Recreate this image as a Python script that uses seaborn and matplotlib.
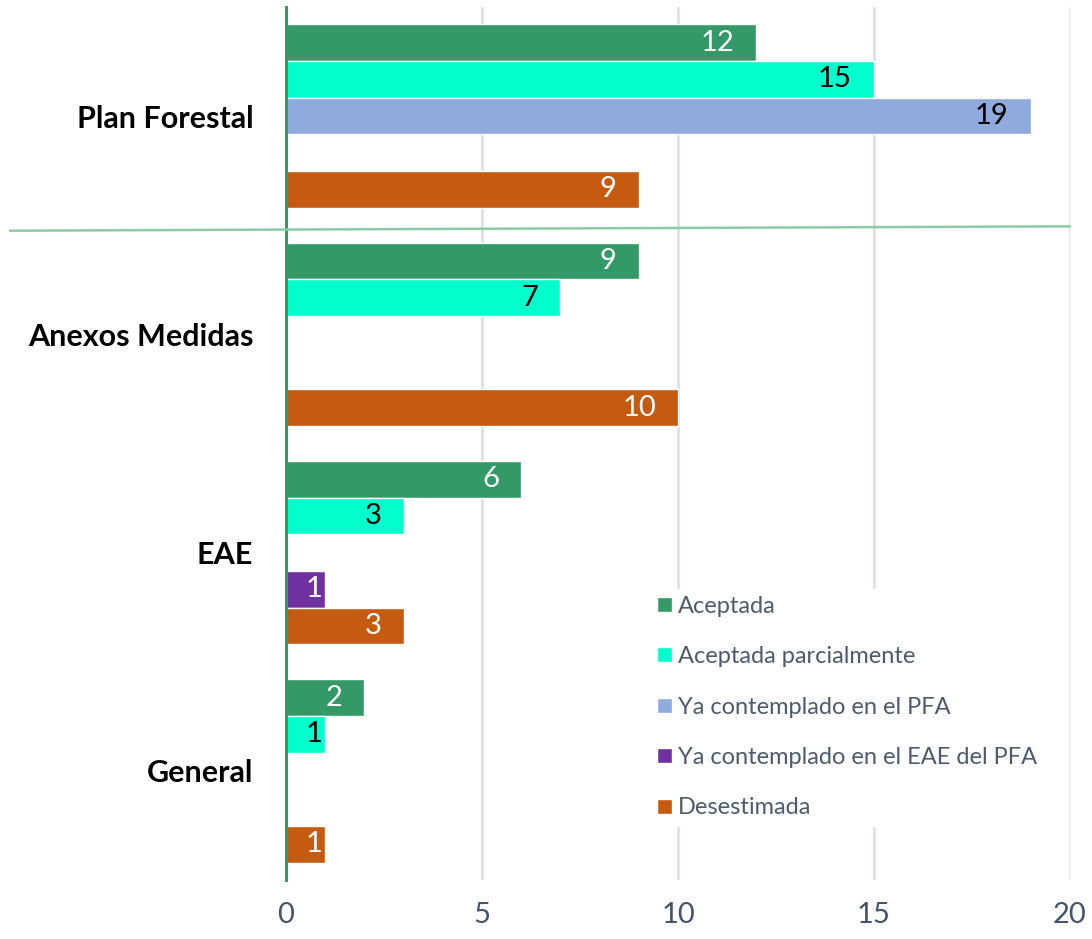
import matplotlib
matplotlib.use("Agg")
import matplotlib.pyplot as plt
from matplotlib.lines import Line2D
import numpy as np
import pandas as pd
import seaborn as sns

# Categories (top to bottom) and series
categories = ["Plan Forestal", "Anexos Medidas", "EAE", "General"]
series = [
    "Aceptada",
    "Aceptada parcialmente",
    "Ya contemplado en el PFA",
    "Ya contemplado en el EAE del PFA",
    "Desestimada",
]
aceptada = [12, 9, 6, 2]
aceptada_parcial = [15, 7, 3, 1]
ya_pfa = [19, None, None, None]
ya_eae_pfa = [None, None, 1, None]
desestimada = [9, 10, 3, 1]
x_ticks = [0, 5, 10, 15, 20]

colors = {
    "Aceptada": "#339966",
    "Aceptada parcialmente": "#00FFCC",
    "Ya contemplado en el PFA": "#8FAADC",
    "Ya contemplado en el EAE del PFA": "#7030A0",
    "Desestimada": "#C55A11",
}
label_colors = {
    "Aceptada": "white",
    "Aceptada parcialmente": "black",
    "Ya contemplado en el PFA": "black",
    "Ya contemplado en el EAE del PFA": "white",
    "Desestimada": "white",
}

rows = []
for name, vals in zip(series, [aceptada, aceptada_parcial, ya_pfa, ya_eae_pfa, desestimada]):
    for cat, v in zip(categories, vals):
        if v is not None:
            rows.append({"categoria": cat, "serie": name, "valor": v})
df = pd.DataFrame(rows)

sns.set_theme(style="white")
plt.rcParams["font.family"] = ["Lato", "DejaVu Sans"]

fig = plt.figure(figsize=(10.92, 9.39), dpi=100)
ax = fig.add_axes([286 / 1092, 1 - 880 / 939, 784 / 1092, 873 / 939])

sns.barplot(
    data=df, y="categoria", x="valor", hue="serie",
    order=categories, hue_order=series, palette=colors,
    orient="h", width=0.84, saturation=1, ax=ax, errorbar=None,
)

ax.set_xlim(0, 20)
ax.set_ylim(3.5, -0.5)
ax.set_xticks(x_ticks)
ax.set_xticklabels([str(t) for t in x_ticks])
ax.set_xlabel("")
ax.set_ylabel("")
ax.tick_params(axis="x", length=0, pad=16, labelsize=21, labelcolor="#44546A")
ax.tick_params(axis="y", length=0, pad=23.5, labelsize=22)
for lbl in ax.get_yticklabels():
    lbl.set_fontweight("bold")
    lbl.set_color("black")

ax.grid(axis="x", color="#D9DEE7", linewidth=1.8)
ax.grid(axis="y", visible=False)
ax.set_axisbelow(True)
for side in ["top", "right", "bottom"]:
    ax.spines[side].set_visible(False)
ax.spines["left"].set_color("#339966")
ax.spines["left"].set_linewidth(2.2)
ax.spines["left"].set_zorder(5)

# Value labels at the inner end of each bar
x0 = ax.transData.transform((0, 0))[0]
for name, cont in zip(series, ax.containers):
    for bar in cont:
        w = bar.get_width()
        if not np.isfinite(w) or w == 0:
            continue
        px = ax.transData.transform((w, 0))[0] - x0
        pad_px = 22 if px > 60 else 3
        ax.annotate(
            f"{w:g}", (w, bar.get_y() + bar.get_height() / 2),
            xytext=(-pad_px * 0.72, 0), textcoords="offset points",
            ha="right", va="center", fontsize=21, color=label_colors[name],
        )

# Separator between the first group and the rest
trans = matplotlib.transforms.blended_transform_factory(ax.transAxes, ax.transData)
sep = Line2D([-276 / 784, 1.0], [0.525, 0.505], transform=trans, color="#8CCBA8",
             linewidth=1.8, clip_on=False, zorder=6)
ax.add_line(sep)

handles, labels = ax.get_legend_handles_labels()
ax.get_legend().remove()
leg = ax.legend(
    handles, labels, loc="upper left", bbox_to_anchor=(0.4496, 0.3471),
    frameon=True, facecolor="white", edgecolor="white", framealpha=1,
    fontsize=17, labelspacing=1.245, handlelength=0.6, handleheight=0.6,
    handletextpad=0.28, borderpad=0.3, fancybox=False,
)
for t in leg.get_texts():
    t.set_color("#4D5B6E")
leg.set_zorder(4)

fig.savefig("out.png", dpi=100)
